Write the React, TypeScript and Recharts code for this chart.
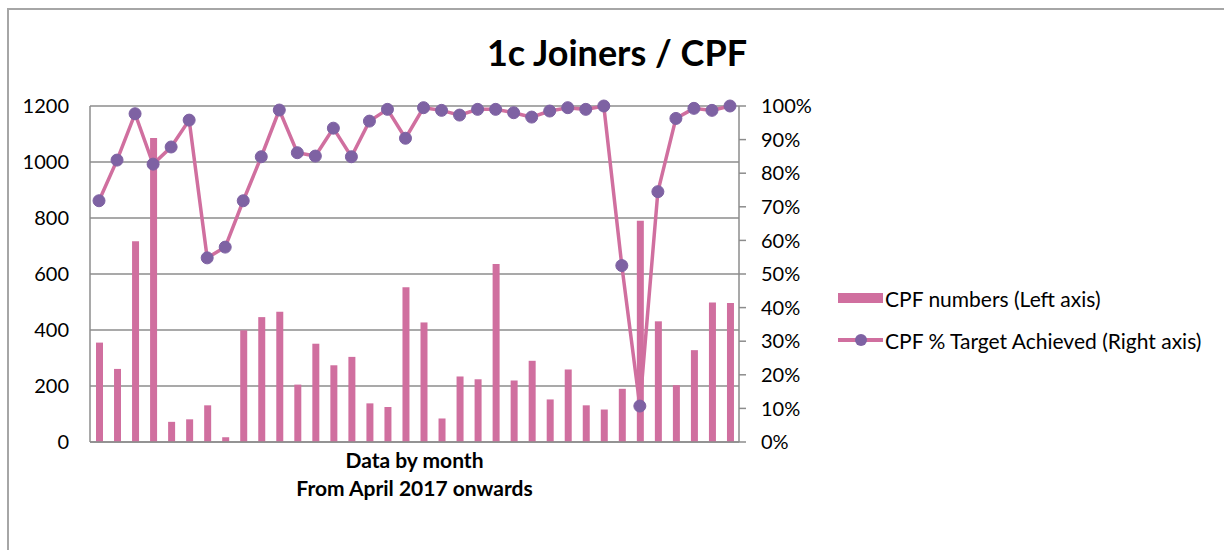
import {
  ComposedChart,
  Bar,
  Line,
  XAxis,
  YAxis,
  CartesianGrid,
} from 'recharts'

// one entry per month, from April 2017 onwards
const months = [
  'Apr 17', 'May 17', 'Jun 17', 'Jul 17', 'Aug 17', 'Sep 17', 'Oct 17', 'Nov 17', 'Dec 17',
  'Jan 18', 'Feb 18', 'Mar 18', 'Apr 18', 'May 18', 'Jun 18', 'Jul 18', 'Aug 18', 'Sep 18',
  'Oct 18', 'Nov 18', 'Dec 18', 'Jan 19', 'Feb 19', 'Mar 19', 'Apr 19', 'May 19', 'Jun 19',
  'Jul 19', 'Aug 19', 'Sep 19', 'Oct 19', 'Nov 19', 'Dec 19', 'Jan 20', 'Feb 20', 'Mar 20',
]

const cpfNumbers = [
  355, 261, 717, 1086, 72, 81, 131, 17, 399, 446, 465, 205, 351, 274, 304, 138, 125, 553,
  427, 84, 234, 224, 636, 220, 290, 152, 259, 131, 116, 190, 790, 431, 203, 328, 498, 496,
]

const cpfTarget = [
  0.718, 0.839, 0.977, 0.827, 0.878, 0.958, 0.548, 0.58, 0.718, 0.849, 0.988, 0.861,
  0.851, 0.934, 0.849, 0.955, 0.99, 0.904, 0.995, 0.987, 0.973, 0.99, 0.99, 0.98,
  0.967, 0.985, 0.995, 0.99, 1.0, 0.525, 0.107, 0.745, 0.963, 0.993, 0.987, 1.0,
]

const leftTicks = [0, 200, 400, 600, 800, 1000, 1200]
const rightTicks = [0, 0.1, 0.2, 0.3, 0.4, 0.5, 0.6, 0.7, 0.8, 0.9, 1]

const data = months.map((m, i) => ({
  month: m,
  numbers: cpfNumbers[i],
  target: cpfTarget[i],
}))

const PINK = '#d06f9f'
const PURPLE = '#7e62a3'
const GRID = '#8c8c8c'
const FONT = 'Lato, "Open Sans", sans-serif'

const XLabel = (props: any) => {
  const { viewBox } = props
  const cx = viewBox.x + viewBox.width / 2
  return (
    <g fontFamily={FONT} fontWeight='bold' fontSize={21} fill='#000'>
      <text x={cx} y={viewBox.y + 26} textAnchor='middle'>
        Data by month
      </text>
      <text x={cx} y={viewBox.y + 54} textAnchor='middle'>
        From April 2017 onwards
      </text>
    </g>
  )
}

const LegendBox = () => (
  <div
    style={{
      position: 'absolute',
      left: 838,
      top: 285,
      fontFamily: FONT,
      fontSize: 21,
      color: '#000',
      whiteSpace: 'nowrap',
    }}
  >
    <div style={{ display: 'flex', alignItems: 'center', height: 26 }}>
      <svg width={47} height={14}>
        <rect x={0} y={2} width={45} height={10} fill={PINK} />
      </svg>
      <span>CPF numbers (Left axis)</span>
    </div>
    <div style={{ display: 'flex', alignItems: 'center', height: 26, marginTop: 16 }}>
      <svg width={47} height={14}>
        <line x1={0} y1={7} x2={45} y2={7} stroke={PINK} strokeWidth={4} />
        <circle cx={23} cy={7} r={6} fill={PURPLE} />
      </svg>
      <span>CPF % Target Achieved (Right axis)</span>
    </div>
  </div>
)

export default function App() {
  return (
    <div
      style={{
        position: 'fixed',
        left: 0,
        top: 0,
        width: 1224,
        height: 550,
        background: '#fff',
        overflow: 'hidden',
      }}
    >
      {/* chart frame, open to the right and bottom */}
      <div
        style={{
          position: 'absolute',
          left: 7,
          top: 8,
          width: 1400,
          height: 700,
          borderTop: '2px solid #a6a6a6',
          borderLeft: '2px solid #a6a6a6',
        }}
      />
      <div
        style={{
          position: 'absolute',
          left: 0,
          top: 30,
          width: 1234,
          textAlign: 'center',
          fontFamily: FONT,
          fontWeight: 'bold',
          fontSize: 36,
          color: '#000',
        }}
      >
        1c Joiners / CPF
      </div>
      <div style={{ position: 'absolute', left: 0, top: 0 }}>
        <ComposedChart
          width={1224}
          height={550}
          data={data}
          margin={{ top: 106, left: 30, right: 405, bottom: 48 }}
          barSize={7}
        >
          <CartesianGrid
            yAxisId='left'
            vertical={false}
            stroke={GRID}
            strokeWidth={1.5}
          />
          <XAxis
            dataKey='month'
            tick={false}
            tickLine={false}
            height={60}
            axisLine={{ stroke: GRID, strokeWidth: 1.5 }}
            label={<XLabel />}
          />
          <YAxis
            yAxisId='left'
            width={60}
            domain={[0, 1200]}
            ticks={leftTicks}
            tickLine={false}
            tickSize={0}
            tickMargin={21}
            axisLine={{ stroke: GRID, strokeWidth: 1.5 }}
            tick={{ fill: '#000', fontSize: 20, fontFamily: FONT }}
          />
          <YAxis
            yAxisId='right'
            orientation='right'
            width={80}
            domain={[0, 1]}
            ticks={rightTicks}
            tickFormatter={(v: number) => `${Math.round(v * 100)}%`}
            tickSize={7}
            tickMargin={15}
            tickLine={{ stroke: GRID, strokeWidth: 1.5 }}
            axisLine={{ stroke: GRID, strokeWidth: 1.5 }}
            tick={{ fill: '#000', fontSize: 20, fontFamily: FONT, textAnchor: 'start' }}
          />
          <Bar
            yAxisId='left'
            dataKey='numbers'
            name='CPF numbers (Left axis)'
            fill={PINK}
            isAnimationActive={false}
          />
          <Line
            yAxisId='right'
            dataKey='target'
            name='CPF % Target Achieved (Right axis)'
            stroke={PINK}
            strokeWidth={3.5}
            dot={{ r: 6, fill: PURPLE, stroke: PURPLE, strokeWidth: 1 }}
            activeDot={false}
            isAnimationActive={false}
          />
        </ComposedChart>
      </div>
      <LegendBox />
    </div>
  )
}
